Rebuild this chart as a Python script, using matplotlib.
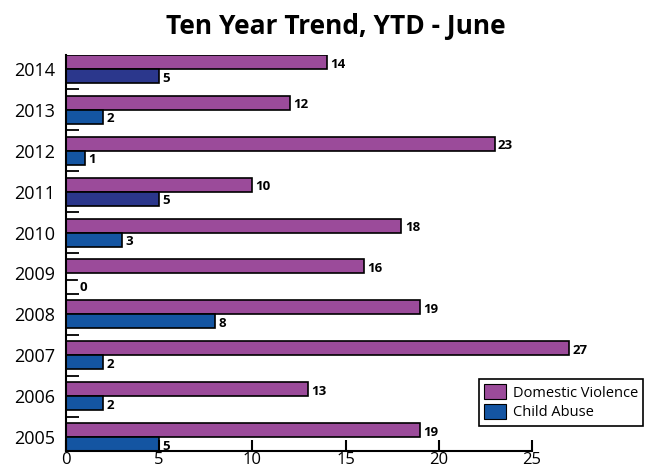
import numpy as np
import matplotlib
matplotlib.use("Agg")
from matplotlib import pyplot as plt
from matplotlib.patches import Patch

plt.rcParams['font.family'] = ['Open Sans', 'DejaVu Sans']

# Data
years = ['2005', '2006', '2007', '2008', '2009', '2010', '2011', '2012', '2013', '2014']
domestic = [19, 13, 27, 19, 16, 18, 10, 23, 12, 14]
child = [5, 2, 2, 8, 0, 3, 5, 1, 2, 5]

purple = '#9B4B9A'
blue = '#1455A2'
navy = '#2B378C'
child_colors = [navy if y in ('2011', '2014') else blue for y in years]

fig = plt.figure(figsize=(6.57, 4.71), dpi=100)
ax = fig.add_axes([66 / 657, 1 - 451 / 471, 559 / 657, 396 / 471])

h = 0.342
y = np.arange(len(years))
ax.barh(y + h / 2, domestic, height=h, color=purple, edgecolor='black', linewidth=1.2)
ax.barh(y - h / 2, child, height=h, color=child_colors, edgecolor='black', linewidth=1.2)

# value labels
for i in range(len(years)):
    ax.text(domestic[i] + 0.18, y[i] + h / 2 - 0.05, str(domestic[i]),
            va='center', ha='left', fontsize=9.5, fontweight='bold')
    if child[i] == 0:
        # empty bar: short stub on the axis, label pushed down a little
        ax.plot([0, 0.6], [y[i] - h / 2] * 2, color='black', linewidth=1.3)
        ax.text(0.75, y[i] - h / 2 - 0.17, '0',
                va='center', ha='left', fontsize=9.5, fontweight='bold')
    else:
        ax.text(child[i] + 0.18, y[i] - h / 2 - 0.05, str(child[i]),
                va='center', ha='left', fontsize=9.5, fontweight='bold')

ax.set_xlim(0, 30)
ax.set_ylim(-h, len(years) - 1 + h)

ax.spines['top'].set_visible(False)
ax.spines['right'].set_visible(False)
ax.spines['bottom'].set_bounds(0, 25)
ax.spines['left'].set_linewidth(1.5)
ax.spines['bottom'].set_linewidth(1.5)

ax.set_xticks([0, 5, 10, 15, 20, 25])
ax.tick_params(axis='x', direction='in', length=8, width=1.5, labelsize=12, pad=1)

ax.set_yticks(y)
ax.set_yticklabels(years)
ax.tick_params(axis='y', which='major', length=0, labelsize=13, pad=8)
ax.set_yticks(y[:-1] + 0.5, minor=True)
ax.tick_params(axis='y', which='minor', direction='in', length=9, width=1.3)

fig.text(336 / 657, 1 - 27 / 471, 'Ten Year Trend, YTD - June', fontsize=19,
         fontweight='bold', ha='center', va='center')

handles = [Patch(facecolor=purple, edgecolor='black', linewidth=0.8),
           Patch(facecolor=blue, edgecolor='black', linewidth=0.8)]
leg = ax.legend(handles, ['Domestic Violence', 'Child Abuse'],
                loc='upper left', bbox_to_anchor=(472 / 657, 1 - 372 / 471),
                bbox_transform=fig.transFigure, fontsize=10.5, fancybox=False,
                edgecolor='black', framealpha=1, handlelength=1.45, handleheight=1.15,
                borderpad=0.35, labelspacing=0.25, handletextpad=0.5)
leg.get_frame().set_linewidth(1.2)

fig.savefig('out.png', dpi=100)
